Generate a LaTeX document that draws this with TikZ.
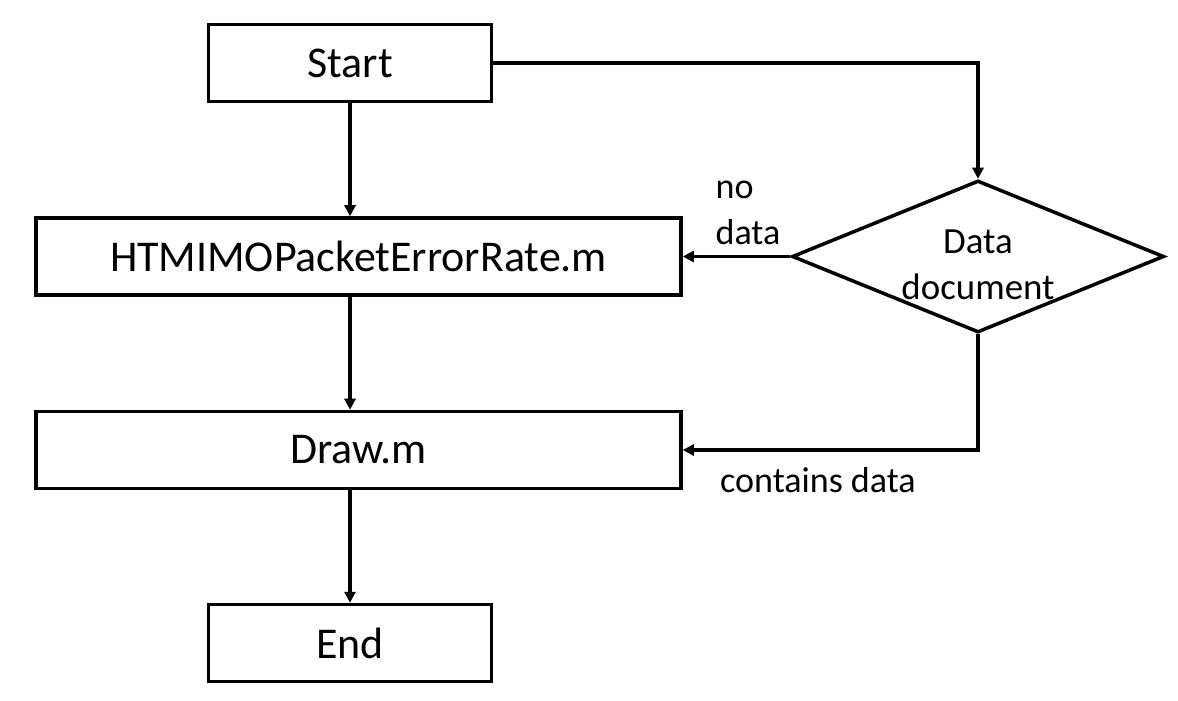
\documentclass[tikz,border=0pt]{standalone}
\usepackage{fontspec}
\setmainfont{Carlito}
\usetikzlibrary{arrows.meta, positioning, calc, shapes.geometric}

\begin{document}
\begin{tikzpicture}[
    block/.style={rectangle, draw, line width=2pt, minimum height=1.54cm, font=\fontsize{25}{30}\selectfont},
    decision/.style={diamond, draw, line width=2pt, aspect=2.45, minimum width=7.44cm, minimum height=3.04cm, inner sep=0pt},
    label/.style={font=\fontsize{20.5}{26}\selectfont, align=left},
    flow/.style={-{Triangle[length=0.22cm, width=0.22cm]}, line width=2pt}
]
\useasboundingbox (0,0) rectangle (23.56,-14);

% Blocos
\node[block, minimum width=5.66cm] (start) at (7.0,-1.26) {Start};
\node[block, minimum width=12.9cm] (per) at (7.17,-5.13) {HTMIMOPacketErrorRate.m};
\node[block, minimum width=12.9cm] (draw) at (7.17,-9.0) {Draw.m};
\node[block, minimum width=5.66cm] (end) at (7.0,-12.86) {End};
\node[decision] (doc) at (19.56,-5.13) {};
\node[label, align=center, font=\fontsize{21}{26}\selectfont] (doctext) at (19.56,-5.3) {Data\\document};

% Fluxo principal
\draw[flow] (start.south) -- (start.south |- per.north);
\draw[flow] (start.south |- per.south) -- (start.south |- draw.north);
\draw[flow] (start.south |- draw.south) -- (end.north);

% Ramo da decisão
\draw[flow] (start.east) -| (doc.north);
\draw[flow] (doc.west) -- (per.east);
\draw[flow] (doc.south) |- (draw.east);

% Rótulos
\node[label] (nodata) at (14.96,-4.26) {no\\data};
\node[label] (hasdata) at (16.36,-9.6) {contains data};

\end{tikzpicture}
\end{document}
